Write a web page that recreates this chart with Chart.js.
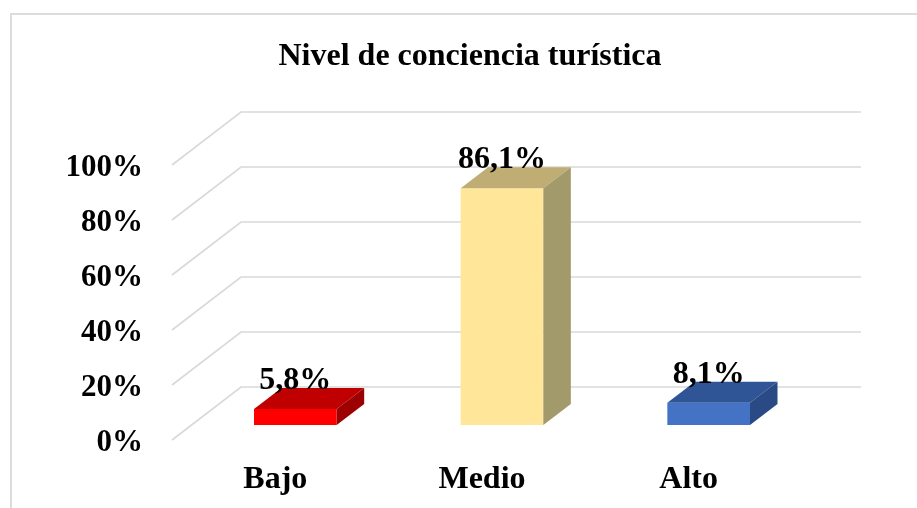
<!DOCTYPE html>
<html>
<head>
<meta charset="utf-8">
<style>html,body{margin:0;padding:0;background:#fff}canvas{display:block}</style>
<script src="https://cdn.jsdelivr.net/npm/chart.js@4"></script>
</head>
<body>
<div style="width:917px;height:508px"><canvas id="c" width="917" height="508"></canvas></div>
<script>
const categories = ['Bajo', 'Medio', 'Alto'];
const values = [5.8, 86.1, 8.1];
const valueLabels = ['5,8%', '86,1%', '8,1%'];
const frontColors = ['#ff0000', '#ffe699', '#4472c4'];
const topColors = ['#c00000', '#bfad73', '#2f5597'];
const sideColors = ['#9c0000', '#a39a6b', '#294a84'];
const FONT = '"Liberation Serif","Times New Roman",serif';
const wallDepth = {x: 69, y: -53};
const barShift = {x: 20, y: -15};
const barDepth = {x: 27.5, y: -21};

const plot3d = {
  id: 'plot3d',
  beforeDraw(chart) {
    const {ctx, scales: {x, y}, chartArea: a} = chart;
    ctx.save();
    ctx.fillStyle = '#fff';
    ctx.fillRect(0, 0, chart.width, chart.height);
    ctx.strokeStyle = '#dcdcdc';
    ctx.lineWidth = 2;
    ctx.beginPath();
    ctx.moveTo(11, chart.height);
    ctx.lineTo(11, 14);
    ctx.lineTo(chart.width, 14);
    ctx.stroke();
    ctx.strokeStyle = '#d9d9d9';
    ctx.lineWidth = 1.6;
    y.ticks.forEach(t => {
      const py = y.getPixelForValue(t.value);
      ctx.beginPath();
      ctx.moveTo(a.left, py);
      ctx.lineTo(a.left + wallDepth.x, py + wallDepth.y);
      ctx.lineTo(a.right + wallDepth.x, py + wallDepth.y);
      ctx.stroke();
    });
    ctx.restore();
  },
  beforeDatasetsDraw(chart) {
    chart.ctx.save();
    chart.ctx.translate(barShift.x, barShift.y);
  },
  afterDatasetsDraw(chart) {
    const ctx = chart.ctx;
    const bars = chart.getDatasetMeta(0).data;
    bars.forEach((b, i) => {
      const {x, y, base, width} = b.getProps(['x', 'y', 'base', 'width'], true);
      const l = x - width / 2, r = x + width / 2;
      ctx.fillStyle = topColors[i];
      ctx.beginPath();
      ctx.moveTo(l, y);
      ctx.lineTo(l + barDepth.x, y + barDepth.y);
      ctx.lineTo(r + barDepth.x, y + barDepth.y);
      ctx.lineTo(r, y);
      ctx.closePath();
      ctx.fill();
      ctx.fillStyle = sideColors[i];
      ctx.beginPath();
      ctx.moveTo(r, y);
      ctx.lineTo(r + barDepth.x, y + barDepth.y);
      ctx.lineTo(r + barDepth.x, base + barDepth.y);
      ctx.lineTo(r, base);
      ctx.closePath();
      ctx.fill();
    });
    ctx.fillStyle = '#000';
    ctx.font = 'bold 32px ' + FONT;
    ctx.textAlign = 'center';
    ctx.textBaseline = 'middle';
    bars.forEach((b, i) => {
      const {x, y} = b.getProps(['x', 'y'], true);
      ctx.fillText(valueLabels[i], x, y - 28);
    });
    ctx.restore();
  }
};

new Chart(document.getElementById('c'), {
  type: 'bar',
  data: {
    labels: categories,
    datasets: [{
      data: values,
      backgroundColor: frontColors,
      borderWidth: 0,
      barPercentage: 0.4,
      categoryPercentage: 1,
      clip: false
    }]
  },
  plugins: [plot3d],
  options: {
    responsive: false,
    animation: false,
    layout: {padding: {left: 23, right: 0, top: 0, bottom: 0}},
    plugins: {
      legend: {display: false},
      tooltip: {enabled: false},
      title: {
        display: true,
        text: 'Nivel de conciencia turística',
        color: '#000',
        font: {family: FONT, size: 32, weight: 'bold', lineHeight: 1.2},
        padding: {top: 38, bottom: 88.6}
      }
    },
    scales: {
      x: {
        grid: {display: false},
        border: {display: false},
        ticks: {color: '#000', padding: 13, font: {family: FONT, size: 32, weight: 'bold'}, maxRotation: 0},
        afterFit(s) { s.height = 68; }
      },
      y: {
        min: 0, max: 100,
        grid: {display: false},
        border: {display: false},
        ticks: {
          stepSize: 20, color: '#000', padding: 21, labelOffset: 3,
          font: {family: FONT, size: 31, weight: 'bold'},
          callback: v => v + '%'
        },
        afterFit(s) { s.width = 149; }
      },
      spacer: {
        position: 'right',
        grid: {display: false},
        border: {display: false},
        ticks: {display: false},
        afterFit(s) { s.width = 125; }
      }
    }
  }
});
</script>
</body>
</html>
